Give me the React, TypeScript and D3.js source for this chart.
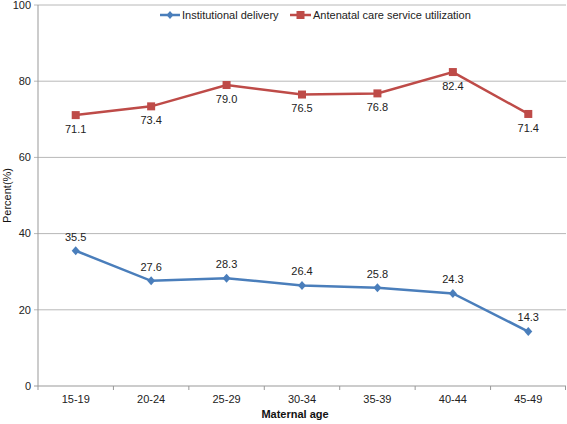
import React from "react";
import * as d3 from "d3";

const categories = ["15-19", "20-24", "25-29", "30-34", "35-39", "40-44", "45-49"];
const institutional = [35.5, 27.6, 28.3, 26.4, 25.8, 24.3, 14.3];
const antenatal = [71.1, 73.4, 79.0, 76.5, 76.8, 82.4, 71.4];
const yTicks = [0, 20, 40, 60, 80, 100];
const seriesNames = ["Institutional delivery", "Antenatal care service utilization"];

const W = 567, H = 424;
const left = 38, right = 566, top = 5, bottom = 386;
const BLUE = "#4a7ebb";
const RED = "#be4b48";
const FONT = "'Liberation Sans', Arial, sans-serif";

export default function App() {
  const x = d3.scaleBand<string>().domain(categories).range([left, right]);
  const y = d3.scaleLinear().domain([0, 100]).range([bottom, top]);
  const cx = (c: string) => (x(c) as number) + x.bandwidth() / 2;
  const line = d3.line<number>().x((_, i) => cx(categories[i])).y((d) => y(d));

  return (
    <svg width={W} height={H} style={{ position: "absolute", left: 0, top: 0, background: "#fff" }} fontFamily={FONT}>
      {yTicks.map((t) => (
        <g key={t}>
          <line x1={left - 4} x2={right} y1={y(t)} y2={y(t)} stroke={t === 0 ? "#999" : "#b8b8b8"} strokeWidth={1} />
          <text x={31} y={y(t)} dy="0.35em" textAnchor="end" fontSize={11} fill="#222">{t}</text>
        </g>
      ))}
      <line x1={left} x2={left} y1={top} y2={bottom} stroke="#999" />
      {categories.map((c, i) => (
        <g key={c}>
          <line x1={(x(c) as number) + (i === 0 ? 0 : 0)} x2={x(c) as number} y1={bottom} y2={bottom + 4} stroke="#999" />
          <text x={cx(c)} y={bottom + 17} textAnchor="middle" fontSize={11} fill="#222">{c}</text>
        </g>
      ))}
      <line x1={right - 0.5} x2={right - 0.5} y1={bottom} y2={bottom + 4} stroke="#999" />
      <text x={295} y={418} textAnchor="middle" fontSize={11} fontWeight="bold" fill="#111">Maternal age</text>
      <text transform={`translate(11,${(top + bottom) / 2}) rotate(-90)`} textAnchor="middle" fontSize={11} fill="#111">Percent(%)</text>

      <path d={line(antenatal) || ""} fill="none" stroke={RED} strokeWidth={2.5} />
      {antenatal.map((v, i) => (
        <g key={i}>
          <rect x={cx(categories[i]) - 4} y={y(v) - 4} width={8} height={8} fill={RED} />
          <text x={cx(categories[i])} y={y(v) + 14} dy="0.35em" textAnchor="middle" fontSize={11} fill="#222">{v.toFixed(1)}</text>
        </g>
      ))}

      <path d={line(institutional) || ""} fill="none" stroke={BLUE} strokeWidth={2.5} />
      {institutional.map((v, i) => (
        <g key={i}>
          <path d={`M${cx(categories[i])},${y(v) - 4.5}l4,4.5l-4,4.5l-4,-4.5z`} fill={BLUE} />
          <text x={cx(categories[i])} y={y(v) - 14} dy="0.35em" textAnchor="middle" fontSize={11} fill="#222">{v.toFixed(1)}</text>
        </g>
      ))}

      <g>
        <line x1={160} x2={180} y1={15} y2={15} stroke={BLUE} strokeWidth={2.5} />
        <path d={`M170,11l3.5,4l-3.5,4l-3.5,-4z`} fill={BLUE} />
        <text x={182} y={15} dy="0.35em" fontSize={11} fill="#222">{seriesNames[0]}</text>
        <line x1={290} x2={311} y1={15} y2={15} stroke={RED} strokeWidth={2.5} />
        <rect x={296.5} y={11} width={8} height={8} fill={RED} />
        <text x={313} y={15} dy="0.35em" fontSize={11} fill="#222">{seriesNames[1]}</text>
      </g>
    </svg>
  );
}
